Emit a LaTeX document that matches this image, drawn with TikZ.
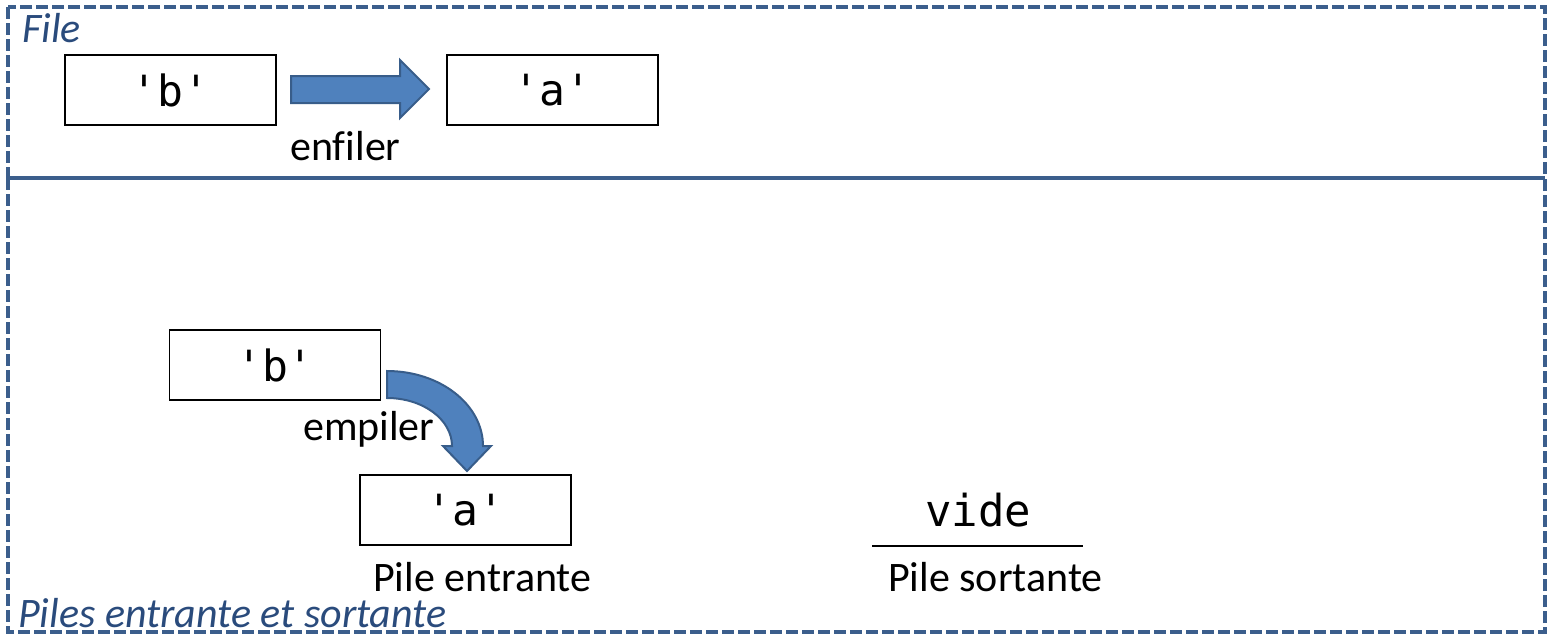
\documentclass[tikz,border=0pt]{standalone}
\usepackage{fontspec}
\setmainfont[Ligatures={NoCommon}]{Carlito}
\setmonofont{DejaVu Sans Mono}
\definecolor{frameblue}{HTML}{3B5E8C}
\definecolor{titleblue}{HTML}{2A4B7C}
\definecolor{arrowfill}{HTML}{4F81BD}
\definecolor{arrowline}{HTML}{385D8A}
\begin{document}
\begin{tikzpicture}[x=1pt,y=1pt,
  framestyle/.style={draw=frameblue,line width=3.5pt,dash pattern=on 12pt off 4pt},
  valbox/.style={draw=black,line width=1.3pt,minimum width=211pt,minimum height=70pt,inner sep=0pt,
    font=\fontsize{43}{50}\selectfont\ttfamily},
  lbl/.style={anchor=base west,inner sep=0pt,font=\fontsize{42}{50}\selectfont},
  title/.style={anchor=base west,inner sep=0pt,text=titleblue,font=\fontsize{42}{50}\selectfont\itshape},
  blockarrow/.style={fill=arrowfill,draw=arrowline,line width=2pt,line join=miter}]
\useasboundingbox (0,0) rectangle (1551,-641);
% frames
\draw[framestyle] (8,-7) rectangle (1545,-178);
\draw[framestyle] (8,-178) rectangle (1545,-632);
\draw[draw=frameblue,line width=3.5pt] (8,-178) -- (1545,-178);
\node[title] (tfile) at (22,-42) {File};
\node[title] (tpiles) at (18,-627) {Piles entrante et sortante};
% top part
\node[valbox] (b1) at (170.5,-90) {'b'};
\node[valbox] (a1) at (552.5,-90) {'a'};
\draw[blockarrow] (291,-76) -- (400,-76) -- (400,-60) -- (429,-89) -- (400,-118) -- (400,-103) -- (291,-103) -- cycle;
\node[lbl] (enf) at (290,-160) {enfiler};
% bottom part
\node[valbox] (b2) at (275,-365) {'b'};
\node[valbox] (a2) at (465.5,-510) {'a'};
\draw[blockarrow] (387,-371) arc (90:0:96 and 75) -- (491,-446) -- (467,-471) -- (443,-446) -- (452,-446)
  arc (0:90:65 and 48) -- cycle;
\node[lbl] (emp) at (303,-440) {empiler};
\node[lbl] (pe) at (373,-591) {Pile entrante};
\node[anchor=base,inner sep=0pt,font=\fontsize{44}{50}\selectfont\ttfamily] (vide) at (978,-526) {vide};
\coordinate (l1) at (872,-546);
\coordinate (l2) at (1083,-546);
\draw[black,line width=1.3pt] (l1) -- (l2);
\node[lbl] (ps) at (888,-591) {Pile sortante};
\end{tikzpicture}
\end{document}
